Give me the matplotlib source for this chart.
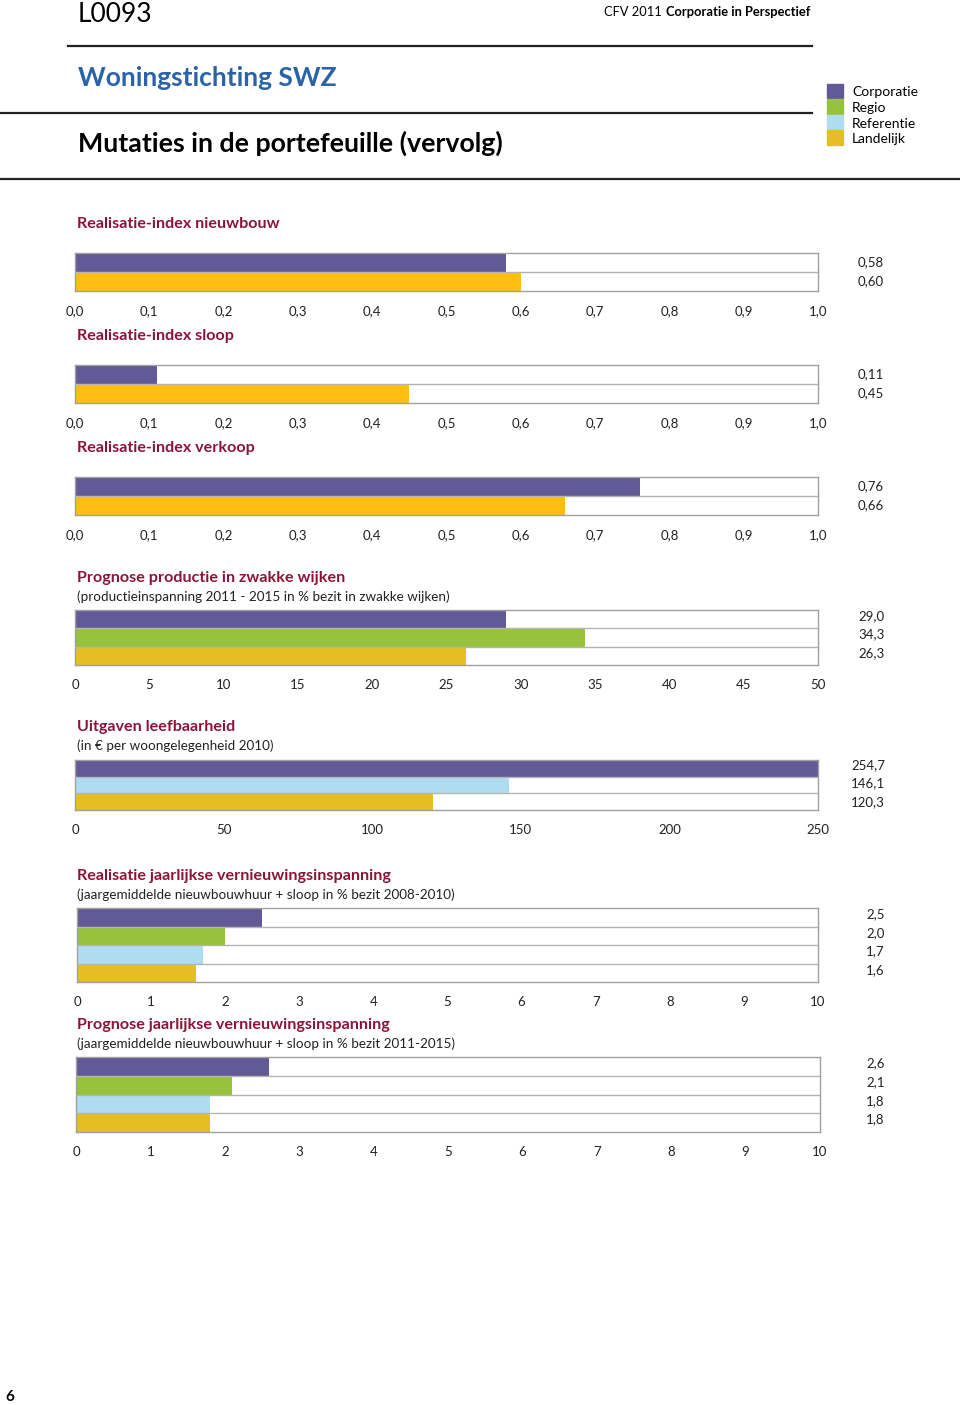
import numpy as np
import matplotlib
matplotlib.use("Agg")
import matplotlib.pyplot as plt
import matplotlib.transforms as mtransforms

plt.rcParams['font.family'] = ['Lato', 'DejaVu Sans']

W, H = 960, 1405

PURPLE = "#625A96"
GREEN = "#97C23C"
LBLUE = "#AEDCF0"
YELLOW = "#E5BE22"
ORANGE = "#FDBE10"
RED = "#8B1538"
BLUE = "#2A63A8"

# -------------------------
# Data
# -------------------------
nieuwbouw = [0.58, 0.60]
sloop = [0.11, 0.45]
verkoop = [0.76, 0.66]
productie = [29.0, 34.3, 26.3]
leefbaarheid = [254.7, 146.1, 120.3]
real_vern = [2.5, 2.0, 1.7, 1.6]
progn_vern = [2.6, 2.1, 1.8, 1.8]

index_ticks = [i / 10 for i in range(11)]
productie_ticks = list(range(0, 51, 5))
leefbaar_ticks = list(range(0, 251, 50))
vern_ticks = list(range(0, 11))

legend_names = ["Corporatie", "Regio", "Referentie", "Landelijk"]
legend_colors = [PURPLE, GREEN, LBLUE, YELLOW]


def nl(v, dec):
    return f"{v:.{dec}f}".replace(".", ",")


fig = plt.figure(figsize=(W / 100, H / 100), dpi=100)


def px_axes(x0, y0, x1, y1):
    return fig.add_axes([x0 / W, 1 - y1 / H, (x1 - x0) / W, (y1 - y0) / H])


def panel(box, values, colors, ticks, tick_dec, val_dec, val_x, title, sub=None, lift=0, spread=1.0):
    x0, y0, x1, y1 = box
    ax = px_axes(x0, y0, x1, y1)
    n = len(values)
    ax.barh(np.arange(n) + 0.5, values, height=1.0, color=colors, zorder=2)
    for k in range(1, n):
        ax.axhline(k, color="#B4B4B4", lw=1.0, zorder=3)
    ax.set_xlim(ticks[0], ticks[-1])
    ax.set_ylim(n, 0)
    ax.set_yticks([])
    ax.set_xticks(ticks)
    ax.set_xticklabels([nl(t, tick_dec) for t in ticks], fontsize=9.5, color="#222222")
    ax.tick_params(axis="x", length=0, pad=10)
    for s in ax.spines.values():
        s.set_color("#A0A0A0")
        s.set_linewidth(1.0)
    trans = mtransforms.blended_transform_factory(fig.transFigure, ax.transData)
    trans = trans + mtransforms.ScaledTranslation(0, lift / 100, fig.dpi_scale_trans)
    mid = (n - 1) / 2
    for i, v in enumerate(values):
        ax.text(val_x / W, mid + (i - mid) * spread + 0.5, nl(v, val_dec), transform=trans,
                fontsize=9.5, va="center", ha="left", color="#222222")
    fig.text(77 / W, 1 - title[1] / H, title[0], fontsize=11.6, fontweight="bold",
             color=RED, va="center", ha="left")
    if sub:
        fig.text(77 / W, 1 - sub[1] / H, sub[0], fontsize=9.7, color="#222222",
                 va="center", ha="left")
    return ax


# -------------------------
# Header
# -------------------------
fig.text(78 / W, 1 - 14 / H, "L0093", fontsize=19, va="center", ha="left")
fig.text(662 / W, 1 - 12 / H, "CFV 2011", fontsize=9.3, va="center", ha="right")
fig.text(810 / W, 1 - 12 / H, "Corporatie in Perspectief", fontsize=9.3, fontweight="bold",
         va="center", ha="right")
fig.add_artist(plt.Line2D([68 / W, 812 / W], [1 - 46 / H] * 2, color="#222222", lw=1.6))
fig.text(78 / W, 1 - 78 / H, "Woningstichting SWZ", fontsize=19, fontweight="bold",
         color=BLUE, va="center", ha="left")
fig.add_artist(plt.Line2D([0, 812 / W], [1 - 113 / H] * 2, color="#222222", lw=1.6))
fig.text(78 / W, 1 - 143 / H, "Mutaties in de portefeuille (vervolg)", fontsize=19.3,
         fontweight="bold", color="black", va="center", ha="left")
fig.add_artist(plt.Line2D([0, 1], [1 - 179 / H] * 2, color="#222222", lw=1.6))

for i, (name, c) in enumerate(zip(legend_names, legend_colors)):
    yc = 91 + i * 15.5
    fig.add_artist(plt.Rectangle((827 / W, 1 - (yc + 7) / H), 16 / W, 14 / H,
                                 color=c, transform=fig.transFigure))
    fig.text(852 / W, 1 - (yc + 1.5) / H, name, fontsize=10, va="center", ha="left")

# -------------------------
# Panels
# -------------------------
panel((75, 253, 818, 291), nieuwbouw, [PURPLE, ORANGE], index_ticks, 1, 2, 858,
      ("Realisatie-index nieuwbouw", 224))
panel((75, 365, 818, 403), sloop, [PURPLE, ORANGE], index_ticks, 1, 2, 858,
      ("Realisatie-index sloop", 336))
panel((75, 477, 818, 515), verkoop, [PURPLE, ORANGE], index_ticks, 1, 2, 858,
      ("Realisatie-index verkoop", 448))
panel((75, 610, 818, 665), productie, [PURPLE, GREEN, YELLOW], productie_ticks, 0, 1, 858,
      ("Prognose productie in zwakke wijken", 578),
      ("(productieinspanning 2011 - 2015 in % bezit in zwakke wijken)", 597), lift=3)
panel((75, 760, 818, 810), leefbaarheid, [PURPLE, LBLUE, YELLOW], leefbaar_ticks, 0, 1, 851,
      ("Uitgaven leefbaarheid", 727),
      ("(in € per woongelegenheid 2010)", 746), lift=1.5, spread=1.1)
panel((77, 908, 818, 982), real_vern, [PURPLE, GREEN, LBLUE, YELLOW], vern_ticks, 0, 1, 866,
      ("Realisatie jaarlijkse vernieuwingsinspanning", 876),
      ("(jaargemiddelde nieuwbouwhuur + sloop in % bezit 2008-2010)", 895), lift=3)
panel((76, 1057, 820, 1132), progn_vern, [PURPLE, GREEN, LBLUE, YELLOW], vern_ticks, 0, 1, 866,
      ("Prognose jaarlijkse vernieuwingsinspanning", 1025),
      ("(jaargemiddelde nieuwbouwhuur + sloop in % bezit 2011-2015)", 1044), lift=3)

fig.text(5 / W, 1 - 1397 / H, "6", fontsize=11, fontweight="bold", va="center", ha="left")

fig.savefig("out.png", dpi=100)
